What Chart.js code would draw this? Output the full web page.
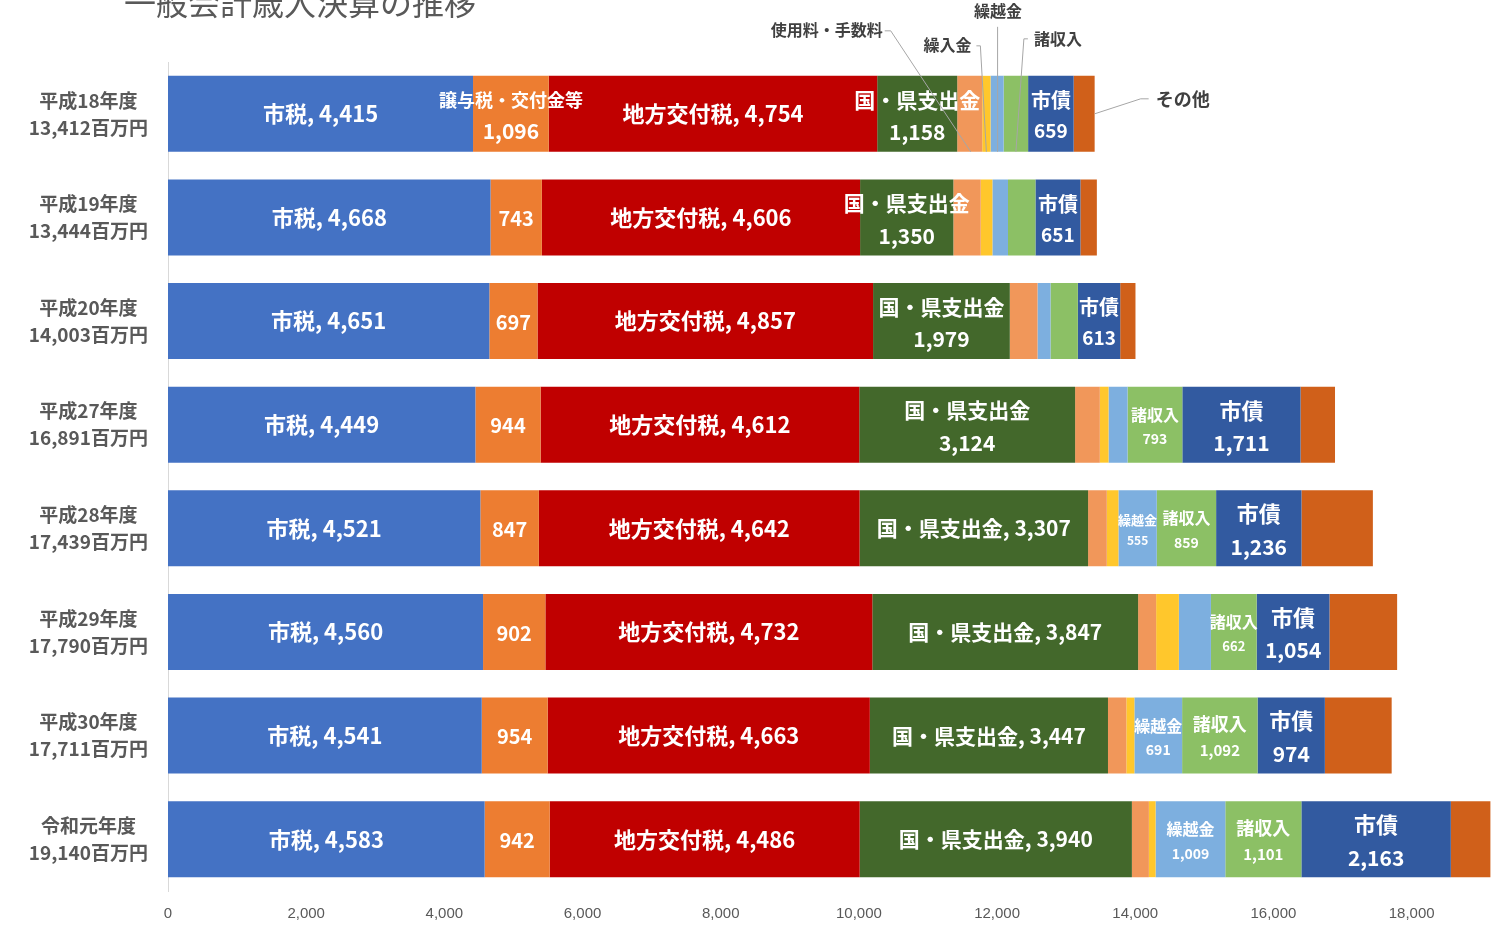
<!DOCTYPE html>
<html>
<head>
<meta charset="utf-8">
<script src="https://cdn.jsdelivr.net/npm/chart.js@4.4.1/dist/chart.umd.min.js"></script>
<style>
html,body{margin:0;padding:0;background:#fff;}
#wrap{width:1498px;height:926px;position:relative;}
</style>
</head>
<body>
<div id="wrap"><canvas id="c"></canvas></div>
<script>
// ---------- data ----------
const chartTitle = '一般会計歳入決算の推移';
const categories = ['平成18年度','平成19年度','平成20年度','平成27年度','平成28年度','平成29年度','平成30年度','令和元年度'];
const totals     = [13412, 13444, 14003, 16891, 17439, 17790, 17711, 19140];
const xTicks     = [0, 2000, 4000, 6000, 8000, 10000, 12000, 14000, 16000, 18000];

const cityTax      = [4415, 4668, 4651, 4449, 4521, 4560, 4541, 4583]; // 市税
const transferTax  = [1096,  743,  697,  944,  847,  902,  954,  942]; // 譲与税・交付金等
const allocTax     = [4754, 4606, 4857, 4612, 4642, 4732, 4663, 4486]; // 地方交付税
const grants       = [1158, 1350, 1979, 3124, 3307, 3847, 3447, 3940]; // 国・県支出金
const fees         = [ 362,  396,  401,  358,  271,  261,  266,  246]; // 使用料・手数料
const transfersIn  = [ 120,  169,    0,  126,  168,  329,  116,   97]; // 繰入金
const carryover    = [ 190,  226,  188,  275,  555,  464,  691, 1009]; // 繰越金
const miscIncome   = [ 354,  397,  396,  793,  859,  662, 1092, 1101]; // 諸収入
const cityBonds    = [ 659,  651,  613, 1711, 1236, 1054,  974, 2163]; // 市債
const others       = [ 304,  238,  221,  499, 1033,  979,  967,  573]; // その他

// ---------- styles ----------
const JP = '"Noto Sans CJK JP", "Noto Sans", sans-serif';
const series = [
  {name:'市税',            data:cityTax,     color:'#4472C4'},
  {name:'譲与税・交付金等', data:transferTax, color:'#ED7D31'},
  {name:'地方交付税',       data:allocTax,    color:'#C00000'},
  {name:'国・県支出金',     data:grants,      color:'#43682B'},
  {name:'使用料・手数料',   data:fees,        color:'#F1975A'},
  {name:'繰入金',          data:transfersIn, color:'#FFC72C'},
  {name:'繰越金',          data:carryover,   color:'#7DAFDF'},
  {name:'諸収入',          data:miscIncome,  color:'#8CC065'},
  {name:'市債',            data:cityBonds,   color:'#325AA0'},
  {name:'その他',          data:others,      color:'#D0601A'}
];
// label mode per series & row: 'in' = "name, value", 'two' = name over value, 'num' = value only, '' = none
const labelModes = [
  ['in','in','in','in','in','in','in','in'],
  ['two','num','num','num','num','num','num','num'],
  ['in','in','in','in','in','in','in','in'],
  ['two','two','two','two','in','in','in','in'],
  null,
  null,
  ['','','','','two','','two','two'],
  ['','','','two','two','two','two','two'],
  ['two','two','two','two','two','two','two','two'],
  null
];
const labelSizes = [
  [[22,22],[22,22],[22,22],[22,22],[22,22],[22,22],[22,22],[22,22]],
  [[18,21],[0,20],[0,20],[0,20],[0,20],[0,20],[0,20],[0,20]],
  [[22,22],[22,22],[22,22],[22,22],[22,22],[22,22],[22,22],[22,22]],
  [[21,21],[21,21],[21,21],[21,21],[21,21],[21,21],[21,21],[21,21]],
  null,
  null,
  [[0,0],[0,0],[0,0],[0,0],[13,12],[0,0],[16,14],[16,14]],
  [[0,0],[0,0],[0,0],[16,14],[16,14],[16,13],[18,15],[18,15]],
  [[20,19],[20,19],[20,19],[22,21],[22,21],[22,21],[22,21],[22,21]],
  null
];

const fmt = v => v.toLocaleString('en-US');
const yLabels = categories.map((c, i) => [c, fmt(totals[i]) + '百万円']);

// ---------- plugins ----------
const segLabels = {
  id: 'segLabels',
  afterDatasetsDraw(chart) {
    const ctx = chart.ctx;
    ctx.save();
    ctx.fillStyle = '#ffffff';
    ctx.textAlign = 'center';
    ctx.textBaseline = 'middle';
    chart.data.datasets.forEach((ds, di) => {
      const modes = labelModes[di];
      if (!modes) return;
      const meta = chart.getDatasetMeta(di);
      meta.data.forEach((el, j) => {
        const m = modes[j];
        if (!m) return;
        const p = el.getProps(['x', 'base', 'y'], true);
        const cx = (p.x + p.base) / 2, cy = p.y;
        const [a, b] = labelSizes[di][j];
        const val = fmt(ds.data[j]);
        if (m === 'in') {
          ctx.font = `bold ${a}px ${JP}`;
          ctx.fillText(ds.label + ', ' + val, cx, cy);
        } else if (m === 'num') {
          ctx.font = `bold ${b}px ${JP}`;
          ctx.fillText(val, cx, cy + 1);
        } else {
          const sep = (a + b) / 2 * 1.35 + 4;
          ctx.font = `bold ${a}px ${JP}`;
          ctx.fillText(ds.label, cx, cy - sep / 2 + 2);
          ctx.font = `bold ${b}px ${JP}`;
          ctx.fillText(val, cx, cy + sep / 2 + 2);
        }
      });
    });

    // callouts for the first bar
    const seg = di => {
      const el = chart.getDatasetMeta(di).data[0];
      const p = el.getProps(['x', 'base', 'y', 'height'], true);
      return {cx: (p.x + p.base) / 2, end: p.x, cy: p.y, top: p.y - p.height / 2, bot: p.y + p.height / 2};
    };
    ctx.strokeStyle = '#A6A6A6';
    ctx.lineWidth = 1;
    ctx.fillStyle = '#404040';
    const line = pts => {
      ctx.beginPath();
      ctx.moveTo(pts[0][0], pts[0][1]);
      for (let k = 1; k < pts.length; k++) ctx.lineTo(pts[k][0], pts[k][1]);
      ctx.stroke();
    };
    ctx.font = `bold 16px ${JP}`;
    // 使用料・手数料
    let s = seg(4);
    let ty = s.top - 46;
    ctx.textAlign = 'right';
    ctx.fillText(series[4].name, s.cx - 87, ty);
    line([[s.cx - 85, ty + 1], [s.cx - 79, ty + 1], [s.cx + 1, s.bot]]);
    // 繰入金
    s = seg(5);
    ty = s.top - 31;
    ctx.fillText(series[5].name, s.cx - 15, ty);
    line([[s.cx - 10, ty + 1], [s.cx - 6, ty + 1], [s.cx, s.bot]]);
    // 繰越金
    s = seg(6);
    ty = s.top - 65;
    ctx.textAlign = 'center';
    ctx.fillText(series[6].name, s.cx + 1, ty);
    line([[s.cx + 0.5, ty + 16], [s.cx + 0.5, s.bot]]);
    // 諸収入
    s = seg(7);
    ty = s.top - 37;
    ctx.textAlign = 'left';
    ctx.fillText(series[7].name, s.cx + 18, ty);
    line([[s.cx + 12, ty], [s.cx + 8, ty], [s.cx, s.bot]]);
    // その他
    s = seg(9);
    ty = s.cy - 15;
    ctx.font = `bold 18px ${JP}`;
    ctx.fillText(series[9].name, s.end + 61, ty);
    line([[s.end + 54, ty], [s.end + 46, ty], [s.end, s.cy]]);
    ctx.restore();
  }
};

const titlePlugin = {
  id: 'topTitle',
  afterDraw(chart) {
    const ctx = chart.ctx;
    ctx.save();
    ctx.fillStyle = '#595959';
    ctx.font = `32px ${JP}`;
    ctx.textAlign = 'center';
    ctx.textBaseline = 'middle';
    ctx.fillText(chartTitle, 300, 3);
    ctx.restore();
  }
};

// ---------- chart ----------
new Chart(document.getElementById('c'), {
  type: 'bar',
  data: {
    labels: yLabels,
    datasets: series.map(s => ({
      label: s.name,
      data: s.data,
      backgroundColor: s.color,
      borderWidth: 0,
      categoryPercentage: 1,
      barPercentage: 0.733
    }))
  },
  options: {
    indexAxis: 'y',
    responsive: true,
    maintainAspectRatio: false,
    animation: false,
    layout: {padding: {top: 62, left: 0, right: 0, bottom: 0}},
    plugins: {
      legend: {display: false},
      tooltip: {enabled: false},
      title: {display: false}
    },
    scales: {
      x: {
        stacked: true,
        min: 0,
        max: 19250,
        afterBuildTicks: sc => { sc.ticks = xTicks.map(v => ({value: v})); },
        afterFit: sc => { sc.height = 35; sc.paddingLeft = 0; sc.paddingRight = 0; },
        grid: {display: false, drawTicks: false},
        border: {display: false},
        ticks: {
          padding: 14,
          color: '#595959',
          font: {family: '"Liberation Sans", sans-serif', size: 15},
          callback: v => fmt(v),
          maxRotation: 0,
          autoSkip: false
        }
      },
      y: {
        stacked: true,
        afterFit: sc => { sc.width = 168; sc.paddingTop = 0; sc.paddingBottom = 0; },
        grid: {display: false, drawTicks: false},
        border: {display: true, color: '#D9D9D9', width: 1},
        ticks: {
          crossAlign: 'center',
          padding: 20,
          color: '#595959',
          font: {family: JP, size: 19, weight: 'bold', lineHeight: 1.42},
          autoSkip: false
        }
      }
    }
  },
  plugins: [segLabels, titlePlugin]
});
</script>
</body>
</html>
